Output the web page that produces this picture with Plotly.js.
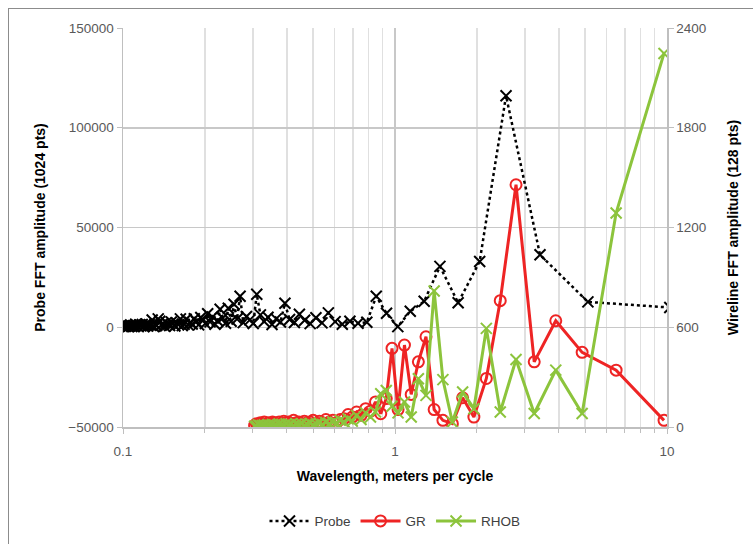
<!DOCTYPE html>
<html>
<head>
<meta charset="utf-8">
<script src="https://cdn.plot.ly/plotly-3.0.1.min.js"></script>
<style>
  html, body { margin: 0; padding: 0; background: #ffffff; overflow: hidden; }
  #chart { width: 753px; height: 544px; }
  #frame { position: absolute; left: 8px; top: 8px; width: 800px; height: 600px;
           border-left: 1.5px solid #8c8c8c; border-top: 1.5px solid #8c8c8c; pointer-events: none; }
</style>
</head>
<body>
<div id="chart"></div>
<div id="frame"></div>
<script>
// Record lengths (m) of the two FFT windows: wavelength of harmonic k = length / k
const PROBE_LENGTH = 10.24;      // 1024 samples x 0.01 m
const WIRELINE_LENGTH = 19.5;    // 128 samples x ~0.152 m

// Probe FFT amplitude, harmonics k = 1..102
const probeAmp = [
  9900, 12700, 36300, 116000, 33000, 12300, 30500, 13000, 8000, 300,
  7000, 15500, 2500, 2000, 3000, 1500, 2800, 7200, 2200, 4800,
  1800, 3500, 6500, 2400, 3900, 12000, 2600, 4200, 1400, 5000,
  2900, 6200, 16500, 1900, 3700, 5400, 2300, 15500, 4100, 11500,
  3000, 9500, 2000, 4600, 9000, 3300, 1500, 5200, 2700, 6800,
  1900, 3600, 4900, 1200, 2800, 4300, 1600, 2400, 1200, 4000,
  1500, 800, 4200, 1300, 2100, 600, 1700, 2600, 900, 1500,
  2300, 500, 1800, 1100, 3000, 4200, 800, 1500, 400, 3600,
  1000, 1300, 600, 1700, 900, 400, 1400, 700, 1200, 300,
  900, 1500, 500, 800, 400, 1100, 600, 300, 900, 500,
  700, 300
];

// Wireline FFT amplitudes, harmonics k = 2..64
const grAmp = [
  40, 342, 449, 639, 392, 1457, 760, 292, 60, 176,
  20, 40, 105, 543, 392, 196, 493, 105, 473, 171,
  80, 151, 95, 110, 70, 90, 60, 75, 50, 45,
  25, 40, 30, 45, 25, 35, 20, 40, 30, 25,
  35, 20, 30, 25, 40, 20, 30, 25, 35, 20,
  30, 15, 25, 30, 20, 25, 15, 30, 20, 25,
  15, 20, 10
];
const rhobAmp = [
  2247, 1287, 81, 342, 81, 406, 90, 593, 110, 211,
  30, 285, 818, 190, 290, 60, 150, 85, 125, 220,
  200, 90, 60, 85, 45, 70, 35, 50, 30, 40,
  25, 30, 20, 28, 15, 24, 18, 12, 22, 16,
  10, 20, 14, 18, 8, 16, 12, 20, 10, 14,
  18, 8, 12, 16, 10, 14, 6, 12, 10, 8,
  14, 6, 5
];

const probeX = probeAmp.map((_, i) => PROBE_LENGTH / (i + 1));
const wirelineX = grAmp.map((_, i) => WIRELINE_LENGTH / (i + 2));

const FONT = 'Liberation Sans, Arial, sans-serif';
const GRID = '#c8c8c8';
const AXIS = '#bfbfbf';
const TICKFONT = { family: FONT, size: 13.5, color: '#595959' };
const TITLEFONT = { family: FONT, size: 14, color: '#000000', weight: 'bold' };

const traces = [
  {
    name: 'Probe', x: probeX, y: probeAmp, yaxis: 'y', type: 'scatter', mode: 'lines+markers',
    line: { color: '#000000', width: 2.5, dash: 'dot' },
    marker: { symbol: 'x-thin-open', size: 11, color: '#000000', line: { color: '#000000', width: 2 } }
  },
  {
    name: 'GR', x: wirelineX, y: grAmp, yaxis: 'y2', type: 'scatter', mode: 'lines+markers',
    line: { color: '#ee2424', width: 3 },
    marker: { symbol: 'circle-open', size: 11, color: '#ee2424', line: { color: '#ee2424', width: 2 } }
  },
  {
    name: 'RHOB', x: wirelineX, y: rhobAmp, yaxis: 'y2', type: 'scatter', mode: 'lines+markers',
    line: { color: '#8cc43c', width: 3 },
    marker: { symbol: 'x-thin-open', size: 11, color: '#8cc43c', line: { color: '#8cc43c', width: 2 } }
  }
];

const layout = {
  width: 753, height: 544,
  margin: { l: 123, r: 86, t: 28, b: 117 },
  paper_bgcolor: '#ffffff', plot_bgcolor: '#ffffff',
  showlegend: true,
  legend: {
    orientation: 'h', x: 0.5, xanchor: 'center',
    yref: 'container', y: 0.042, yanchor: 'middle',
    font: { family: FONT, size: 13.5, color: '#404040' }, itemwidth: 40, traceorder: 'normal'
  },
  xaxis: {
    type: 'log', range: [-1, 1], dtick: 1, automargin: false,
    showline: true, linecolor: AXIS, linewidth: 1.5,
    ticks: 'outside', ticklen: 5, tickcolor: AXIS, tickwidth: 1,
    showgrid: true, gridcolor: GRID, gridwidth: 1.5, zeroline: false,
    minor: { dtick: 'D1', showgrid: true, gridcolor: '#e0e0e0', gridwidth: 1.5,
             ticks: 'outside', ticklen: 4, tickcolor: AXIS },
    tickfont: TICKFONT, ticklabelstandoff: 6,
    title: { text: 'Wavelength, meters per cycle', font: TITLEFONT, standoff: 13 }
  },
  yaxis: {
    range: [-50000, 150000], dtick: 50000, tickformat: 'd', automargin: false,
    showline: true, linecolor: AXIS, linewidth: 1.5,
    ticks: 'outside', ticklen: 5, tickcolor: AXIS,
    showgrid: true, gridcolor: GRID, gridwidth: 1.5, zeroline: false,
    tickfont: TICKFONT,
    title: { text: 'Probe FFT amplitude (1024 pts)', font: TITLEFONT, standoff: 19 }
  },
  yaxis2: {
    overlaying: 'y', side: 'right', range: [0, 2400], dtick: 600, automargin: false,
    showline: true, linecolor: AXIS, linewidth: 1.5,
    ticks: 'outside', ticklen: 5, tickcolor: AXIS,
    showgrid: false, zeroline: false,
    tickfont: TICKFONT,
    title: { text: 'Wireline FFT amplitude (128 pts)', font: TITLEFONT, standoff: 23 }
  }
};

Plotly.newPlot('chart', traces, layout, { staticPlot: true, displayModeBar: false });
</script>
</body>
</html>
